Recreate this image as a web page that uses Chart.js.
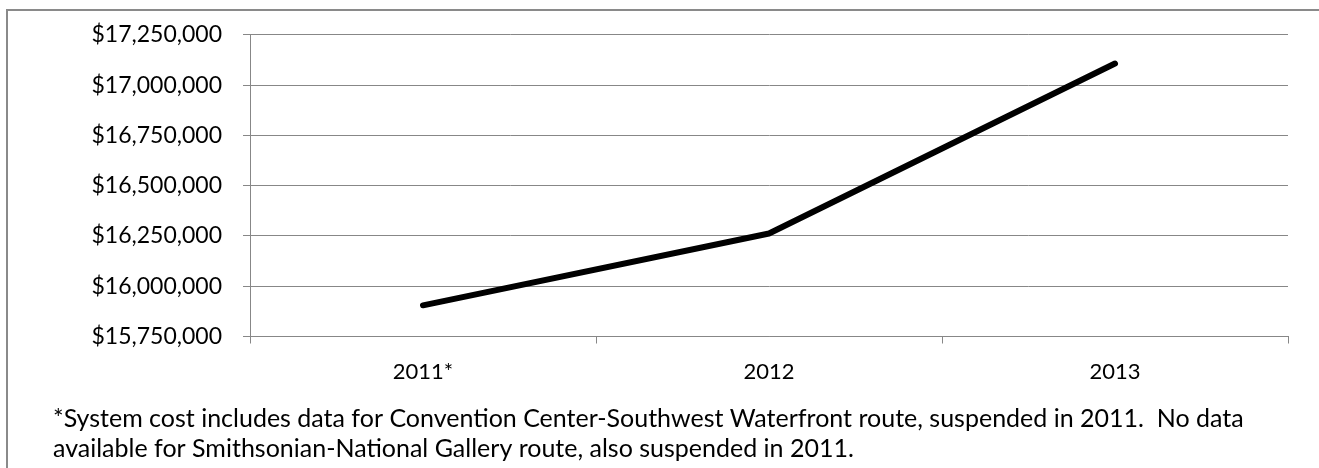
<!DOCTYPE html>
<html>
<head>
<meta charset="utf-8">
<script src="https://cdn.jsdelivr.net/npm/chart.js@4.4.0/dist/chart.umd.min.js"></script>
<style>
  html, body { margin: 0; padding: 0; background: #fff; }
  #wrap { position: relative; width: 1319px; height: 468px; overflow: hidden; }
  canvas { display: block; }
</style>
</head>
<body>
<div id="wrap"><canvas id="c" width="1319" height="468"></canvas></div>
<script>
// Annual system cost
const years = ['2011*', '2012', '2013'];
const systemCost = [15905000, 16262000, 17107000];

// Value axis range
const yMin = 15750000;
const yMax = 17250000;
const yStep = 250000;

const footnoteLines = [
  '*System cost includes data for Convention Center-Southwest Waterfront route, suspended in 2011.  No data',
  'available for Smithsonian-National Gallery route, also suspended in 2011.'
];

const FONT = 'Lato, "Open Sans", sans-serif';
const GRID = '#878787';

const money = v => '$' + Math.round(v).toLocaleString('en-US');

// Frame around the figure and the footnote text beneath the axis
const frameAndNote = {
  id: 'frameAndNote',
  beforeDraw(chart) {
    const ctx = chart.ctx;
    ctx.save();
    ctx.strokeStyle = '#8a8a8a';
    ctx.lineWidth = 2;
    ctx.beginPath();
    ctx.moveTo(7, 480);
    ctx.lineTo(7, 10);
    ctx.lineTo(1330, 10);
    ctx.stroke();
    ctx.restore();
  },
  afterDraw(chart) {
    const ctx = chart.ctx;
    ctx.save();
    ctx.fillStyle = '#000';
    ctx.font = '25px ' + FONT;
    ctx.textBaseline = 'middle';
    ctx.textAlign = 'left';
    ctx.fillText(footnoteLines[0], 53, 419);
    ctx.fillText(footnoteLines[1], 53, 449);
    ctx.restore();
  }
};

new Chart(document.getElementById('c'), {
  type: 'line',
  data: {
    labels: years,
    datasets: [{
      label: 'System cost',
      data: systemCost,
      borderColor: '#000',
      borderWidth: 6,
      borderCapStyle: 'round',
      borderJoinStyle: 'round',
      tension: 0,
      pointRadius: 0,
      fill: false
    }]
  },
  options: {
    responsive: false,
    animation: false,
    layout: { padding: { top: 33, right: 31, left: 0, bottom: 0 } },
    plugins: {
      legend: { display: false },
      tooltip: { enabled: false },
      title: { display: false }
    },
    scales: {
      x: {
        type: 'category',
        offset: true,
        grid: {
          offset: true,
          drawOnChartArea: false,
          drawTicks: true,
          tickLength: 7,
          color: GRID,
          lineWidth: 1
        },
        border: { display: true, color: GRID, width: 1 },
        ticks: {
          color: '#000',
          font: { family: FONT, size: 22 },
          padding: 15,
          maxRotation: 0
        },
        afterFit(scale) { scale.height = 131.5; }
      },
      y: {
        min: yMin,
        max: yMax,
        grid: {
          color: GRID,
          lineWidth: 1,
          tickLength: 7,
          drawTicks: true
        },
        border: { display: true, color: GRID, width: 1 },
        ticks: {
          stepSize: yStep,
          color: '#000',
          font: { family: FONT, size: 23 },
          padding: 21,
          callback: v => money(v)
        },
        afterFit(scale) { scale.width = 250; }
      }
    }
  },
  plugins: [frameAndNote]
});
</script>
</body>
</html>
